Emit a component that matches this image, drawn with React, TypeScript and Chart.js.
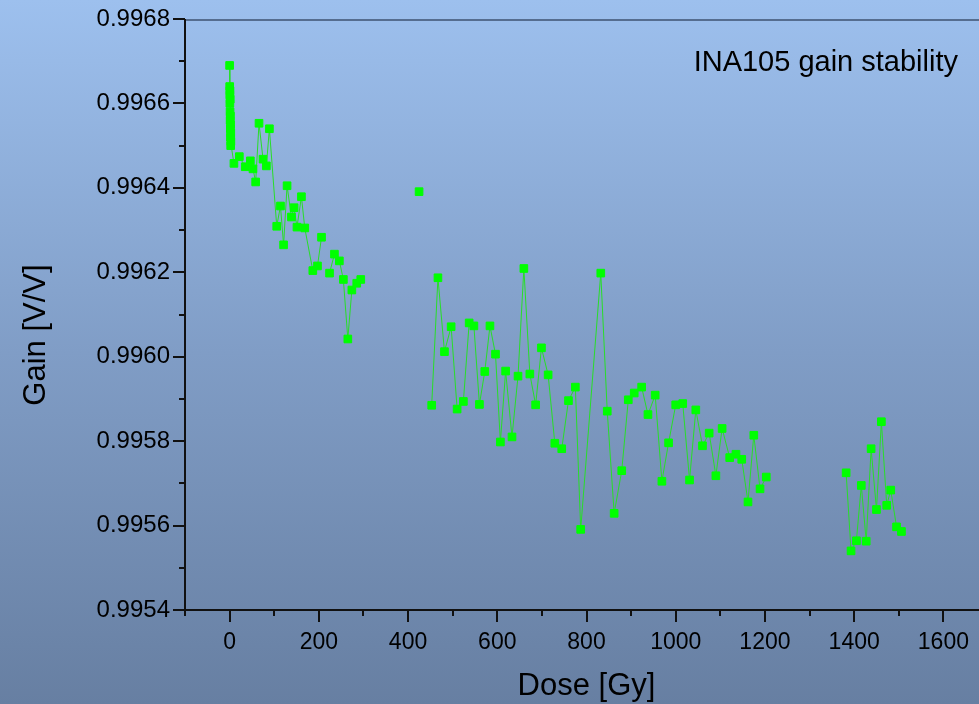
import React, { useEffect, useRef } from 'react';
import { Chart, registerables } from 'chart.js';

Chart.register(...registerables);

// Dose [Gy] (null gain = gap in the connecting line)
const doses: number[] = [
  0, 0.2, 0.4, 0.6, 0.8, 1.0, 1.2, 1.4, 1.6, 1.8, 2.0, 2.2, 2.4, 2.6, 2.8,
  9.7, 21.8, 35, 46.5, 52.4, 58.4, 65.9, 74.9, 82.4, 89.2,
  105.6, 114, 121, 128.8, 138.6, 144.5, 151, 161, 168.5, 186.5, 197, 206,
  215,
  224, 235, 246, 255, 265, 274, 285, 294,
  360,
  424.7,
  440,
  453, 467, 481.6, 496.6, 510, 524, 537, 547.6, 560, 572, 583.6, 596, 607, 618.7, 633, 646.5,
  659.6, 673, 686, 699, 714, 729, 744.5, 759.6, 775, 787,
  832, 846.5, 862, 879, 893.7, 907, 923.6, 937.8, 954, 969, 984, 1000, 1015.7, 1031, 1045,
  1060, 1075, 1090, 1104, 1121, 1135, 1148, 1162, 1175, 1189, 1203,
  1300,
  1382, 1393, 1405, 1416, 1427, 1438, 1450, 1461, 1473, 1482, 1495, 1506,
];

// Gain [V/V]
const gains: (number | null)[] = [
  0.99669, 0.99664, 0.99662, 0.9966, 0.99663, 0.99658, 0.99656, 0.99661, 0.99654, 0.99657, 0.99652, 0.99655, 0.9965, 0.99653, 0.99651,
  0.996458, 0.996474, 0.99645, 0.996464, 0.996445, 0.996414, 0.996553, 0.996468, 0.996452, 0.99654,
  0.996309, 0.996357, 0.996265, 0.996405, 0.996331, 0.996353, 0.996307, 0.996379, 0.996305, 0.996204, 0.996215, 0.996283,
  null,
  0.996198, 0.996243, 0.996227, 0.996183, 0.996042, 0.996158, 0.996174, 0.996183,
  null,
  0.996391,
  null,
  0.995885, 0.996187, 0.996012, 0.996071, 0.995876, 0.995894, 0.99608, 0.996073, 0.995887, 0.995965, 0.996073, 0.996006, 0.995798, 0.995966, 0.99581, 0.995954,
  0.996209, 0.995959, 0.995886, 0.996021, 0.995957, 0.995795, 0.995782, 0.995896, 0.995928, 0.995591,
  0.996198, 0.995871, 0.995629, 0.99573, 0.995898, 0.995914, 0.995928, 0.995863, 0.995909, 0.995705, 0.995796, 0.995886, 0.995889, 0.995708, 0.995874,
  0.995789, 0.995819, 0.995718, 0.99583, 0.995761, 0.995769, 0.995757, 0.995656, 0.995814, 0.995687, 0.995715,
  null,
  0.995725, 0.99554, 0.995564, 0.995695, 0.995563, 0.995782, 0.995638, 0.995846, 0.995648, 0.995684, 0.995597, 0.995586,
];

const xMajorTicks: number[] = [0, 200, 400, 600, 800, 1000, 1200, 1400, 1600];
const xMinorTicks: number[] = [-100, 100, 300, 500, 700, 900, 1100, 1300, 1500, 1700];
const yMajorTicks: number[] = [0.9954, 0.9956, 0.9958, 0.996, 0.9962, 0.9964, 0.9966, 0.9968];
const yMinorTicks: number[] = [0.9955, 0.9957, 0.9959, 0.9961, 0.9963, 0.9965, 0.9967];

const chartTitle = 'INA105 gain stability';
const xTitle = 'Dose [Gy]';
const yTitle = 'Gain [V/V]';

const FONT = "'Liberation Sans', Arial, sans-serif";

const bgPlugin = {
  id: 'bgGradient',
  beforeDraw(chart: any) {
    const { ctx, width, height } = chart;
    const g = ctx.createLinearGradient(0, 0, 0, height);
    g.addColorStop(0, 'rgb(157,192,238)');
    g.addColorStop(0.5, 'rgb(128,157,198)');
    g.addColorStop(1, 'rgb(103,127,162)');
    ctx.save();
    ctx.fillStyle = g;
    ctx.fillRect(0, 0, width, height);
    ctx.restore();
  },
};

const axesPlugin = {
  id: 'axesFrame',
  afterDraw(chart: any) {
    const { ctx, chartArea } = chart;
    const xs = chart.scales.x;
    const ys = chart.scales.y;
    const { left, right, top, bottom } = chartArea;
    ctx.save();
    // top frame line
    ctx.strokeStyle = 'rgb(62,82,112)';
    ctx.lineWidth = 1.5;
    ctx.beginPath();
    ctx.moveTo(left, top + 1);
    ctx.lineTo(right, top + 1);
    ctx.stroke();

    ctx.strokeStyle = '#111';
    ctx.lineWidth = 2;
    ctx.beginPath();
    ctx.moveTo(left, top);
    ctx.lineTo(left, bottom);
    ctx.lineTo(right, bottom);
    ctx.stroke();

    ctx.beginPath();
    xMajorTicks.forEach((v) => {
      const px = Math.round(xs.getPixelForValue(v));
      ctx.moveTo(px, bottom);
      ctx.lineTo(px, bottom + 12);
    });
    xMinorTicks.forEach((v) => {
      const px = Math.round(xs.getPixelForValue(v));
      ctx.moveTo(px, bottom);
      ctx.lineTo(px, bottom + 6);
    });
    yMajorTicks.forEach((v) => {
      const py = Math.round(ys.getPixelForValue(v));
      ctx.moveTo(left, py);
      ctx.lineTo(left - 12, py);
    });
    yMinorTicks.forEach((v) => {
      const py = Math.round(ys.getPixelForValue(v));
      ctx.moveTo(left, py);
      ctx.lineTo(left - 6, py);
    });
    ctx.stroke();

    ctx.fillStyle = '#000';
    // chart title (top right)
    ctx.font = `29px ${FONT}`;
    ctx.textAlign = 'right';
    ctx.textBaseline = 'middle';
    ctx.fillText(chartTitle, 958, 63);

    // x axis title
    ctx.font = `31px ${FONT}`;
    ctx.textAlign = 'center';
    ctx.textBaseline = 'middle';
    ctx.fillText(xTitle, (left + right) / 2, 686);

    // y axis title
    ctx.save();
    ctx.translate(36, 335);
    ctx.rotate(-Math.PI / 2);
    ctx.fillText(yTitle, 0, 0);
    ctx.restore();

    ctx.restore();
  },
};

export default function App() {
  const ref = useRef<HTMLCanvasElement | null>(null);

  useEffect(() => {
    document.body.style.margin = '0';
    const canvas = ref.current;
    if (!canvas) return;
    const data = doses.map((d, i) => ({ x: d, y: gains[i] }));
    const chart = new Chart(canvas, {
      type: 'line',
      data: {
        datasets: [
          {
            data: data as any,
            borderColor: 'rgb(40,222,40)',
            borderWidth: 1,
            backgroundColor: '#00ff00',
            pointStyle: 'rect',
            pointRadius: 5.4,
            pointBorderWidth: 1,
            pointBackgroundColor: '#00ff00',
            pointBorderColor: '#00ff00',
            spanGaps: false,
            tension: 0,
          },
        ],
      },
      options: {
        responsive: false,
        animation: false,
        devicePixelRatio: 1,
        layout: { padding: { top: 19, right: 12, left: 0, bottom: 0 } },
        plugins: {
          legend: { display: false },
          tooltip: { enabled: false },
          title: { display: false },
        },
        scales: {
          x: {
            type: 'linear',
            min: -100,
            max: 1700,
            grid: { display: false, drawTicks: false },
            border: { display: false },
            afterFit: (s: any) => {
              s.height = 94;
              s.paddingLeft = 0;
              s.paddingRight = 0;
              s.paddingTop = 0;
              s.paddingBottom = 0;
            },
            afterBuildTicks: (s: any) => {
              s.ticks = xMajorTicks.map((v) => ({ value: v }));
            },
            ticks: {
              color: '#000',
              padding: 19,
              maxRotation: 0,
              autoSkip: false,
              font: { family: FONT, size: 23 },
              callback: (v: any) => String(v),
            },
          },
          y: {
            type: 'linear',
            min: 0.9954,
            max: 0.9968,
            grid: { display: false, drawTicks: false },
            border: { display: false },
            afterFit: (s: any) => {
              s.width = 185;
              s.paddingLeft = 0;
              s.paddingRight = 0;
              s.paddingTop = 0;
              s.paddingBottom = 0;
            },
            afterBuildTicks: (s: any) => {
              s.ticks = yMajorTicks.map((v) => ({ value: v }));
            },
            ticks: {
              color: '#000',
              padding: 15,
              autoSkip: false,
              font: { family: FONT, size: 24 },
              callback: (v: any) => Number(v).toFixed(4),
            },
          },
        },
      },
      plugins: [bgPlugin, axesPlugin],
    });
    return () => chart.destroy();
  }, []);

  return (
    <div style={{ width: 979, height: 704, overflow: 'hidden' }}>
      <canvas ref={ref} width={1000} height={704} style={{ display: 'block', width: 1000, height: 704 }} />
    </div>
  );
}
